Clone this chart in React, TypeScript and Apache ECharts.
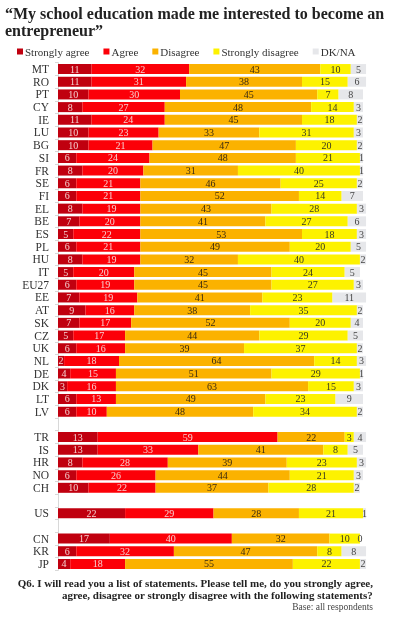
import React, { useEffect, useRef } from "react";
import * as echarts from "echarts";

const countries = [
  "MT", "RO", "PT", "CY", "IE", "LU", "BG", "SI", "FR", "SE", "FI", "EL", "BE", "ES",
  "PL", "HU", "IT", "EU27", "EE", "AT", "SK", "CZ", "UK", "NL", "DE", "DK", "LT", "LV",
  "", "TR", "IS", "HR", "NO", "CH", " ", "US", "  ", "CN", "KR", "JP",
];
const stronglyAgree = [
  11, 11, 10, 8, 11, 10, 10, 6, 8, 6, 6, 8, 7, 5, 6, 8, 5, 6, 7, 9, 7, 5, 6, 2, 4, 3, 6, 6,
  null, 13, 13, 8, 6, 10, null, 22, null, 17, 6, 4,
];
const agree = [
  32, 31, 30, 27, 24, 23, 21, 24, 20, 21, 21, 19, 20, 22, 21, 19, 20, 19, 19, 16, 17, 17, 16, 18, 15, 16, 13, 10,
  null, 59, 33, 28, 26, 22, null, 29, null, 40, 32, 18,
];
const disagree = [
  43, 38, 45, 48, 45, 33, 47, 48, 31, 46, 52, 43, 41, 53, 49, 32, 45, 45, 41, 38, 52, 44, 39, 64, 51, 63, 49, 48,
  null, 22, 41, 39, 44, 37, null, 28, null, 32, 47, 55,
];
const stronglyDisagree = [
  10, 15, 7, 14, 18, 31, 20, 21, 40, 25, 14, 28, 27, 18, 20, 40, 24, 27, 23, 35, 20, 29, 37, 14, 29, 15, 23, 34,
  null, 3, 8, 23, 21, 28, null, 21, null, 10, 8, 22,
];
const dkna = [
  5, 6, 8, 3, 2, 3, 2, 1, 1, 2, 7, 3, 6, 3, 5, 2, 5, 3, 11, 2, 4, 5, 2, 3, 1, 3, 9, 2,
  null, 4, 5, 3, 3, 2, null, 1, null, 0, 8, 2,
];
const seriesNames = ["Strongly agree", "Agree", "Disagree", "Strongly disagree", "DK/NA"];

const SERIF = "'Liberation Serif', 'Times New Roman', serif";

export default function App() {
  const ref = useRef<HTMLDivElement>(null);
  useEffect(() => {
    if (!ref.current) return;
    const chart = echarts.init(ref.current, undefined, { renderer: "svg" });
    const colors = ["#c0000f", "#fc0008", "#fbb200", "#fdf200", "#e6e7ea"];
    const labelColors = ["#f6d0d0", "#f6d0d0", "#3a2a10", "#3a3a20", "#444"];
    const datasets = [stronglyAgree, agree, disagree, stronglyDisagree, dkna];
    const rowH = 12.69;
    const top = 62.7;
    chart.setOption({
      animation: false,
      color: colors,
      legend: {
        top: 41,
        left: 12,
        icon: "rect",
        itemWidth: 6,
        itemHeight: 6,
        itemGap: 14,
        textStyle: { fontFamily: SERIF, fontSize: 11, color: "#333", padding: [0, 0, 0, -3] },
        data: seriesNames,
      },
      graphic: [
        {
          type: "text",
          left: 5,
          top: 5,
          style: {
            text: "\u201cMy school education made me interested to become an",
            font: `bold 16px ${SERIF}`,
            fill: "#222",
          },
        },
        {
          type: "text",
          left: 5,
          top: 22,
          style: {
            text: "entrepreneur\u201d",
            font: `bold 16px ${SERIF}`,
            fill: "#222",
          },
        },
        {
          type: "text",
          right: 27,
          top: 577,
          style: {
            text: "Q6. I will read you a list of statements. Please tell me, do you strongly agree,",
            font: `bold 11px ${SERIF}`,
            fill: "#222",
            align: "right",
          },
        },
        {
          type: "text",
          right: 27,
          top: 589.5,
          style: {
            text: "agree, disagree or strongly disagree with the following statements?",
            font: `bold 11px ${SERIF}`,
            fill: "#222",
            align: "right",
          },
        },
        {
          type: "text",
          right: 27,
          top: 601.5,
          style: {
            text: "Base: all respondents",
            font: `9.5px ${SERIF}`,
            fill: "#444",
            align: "right",
          },
        },
      ],
      grid: { left: 58, top, width: 305, height: rowH * countries.length },
      xAxis: { type: "value", min: 0, max: 100, show: false },
      yAxis: {
        type: "category",
        inverse: true,
        data: countries,
        axisLine: { show: true, lineStyle: { color: "#d8d8d8", width: 1 } },
        axisTick: { show: true, length: 3, lineStyle: { color: "#d8d8d8" } },
        axisLabel: { fontFamily: SERIF, fontSize: 11.5, color: "#333", margin: 9, interval: 0 },
      },
      series: datasets.map((d, i) => ({
        name: seriesNames[i],
        type: "bar",
        stack: "total",
        barWidth: 10,
        clip: false,
        data: d,
        itemStyle: { color: colors[i] },
        label: {
          show: true,
          position: "inside",
          fontFamily: SERIF,
          fontSize: 10,
          color: labelColors[i],
        },
      })),
    });
    return () => chart.dispose();
  }, []);
  return <div ref={ref} style={{ position: "fixed", left: 0, top: 0, width: 400, height: 625 }} />;
}
